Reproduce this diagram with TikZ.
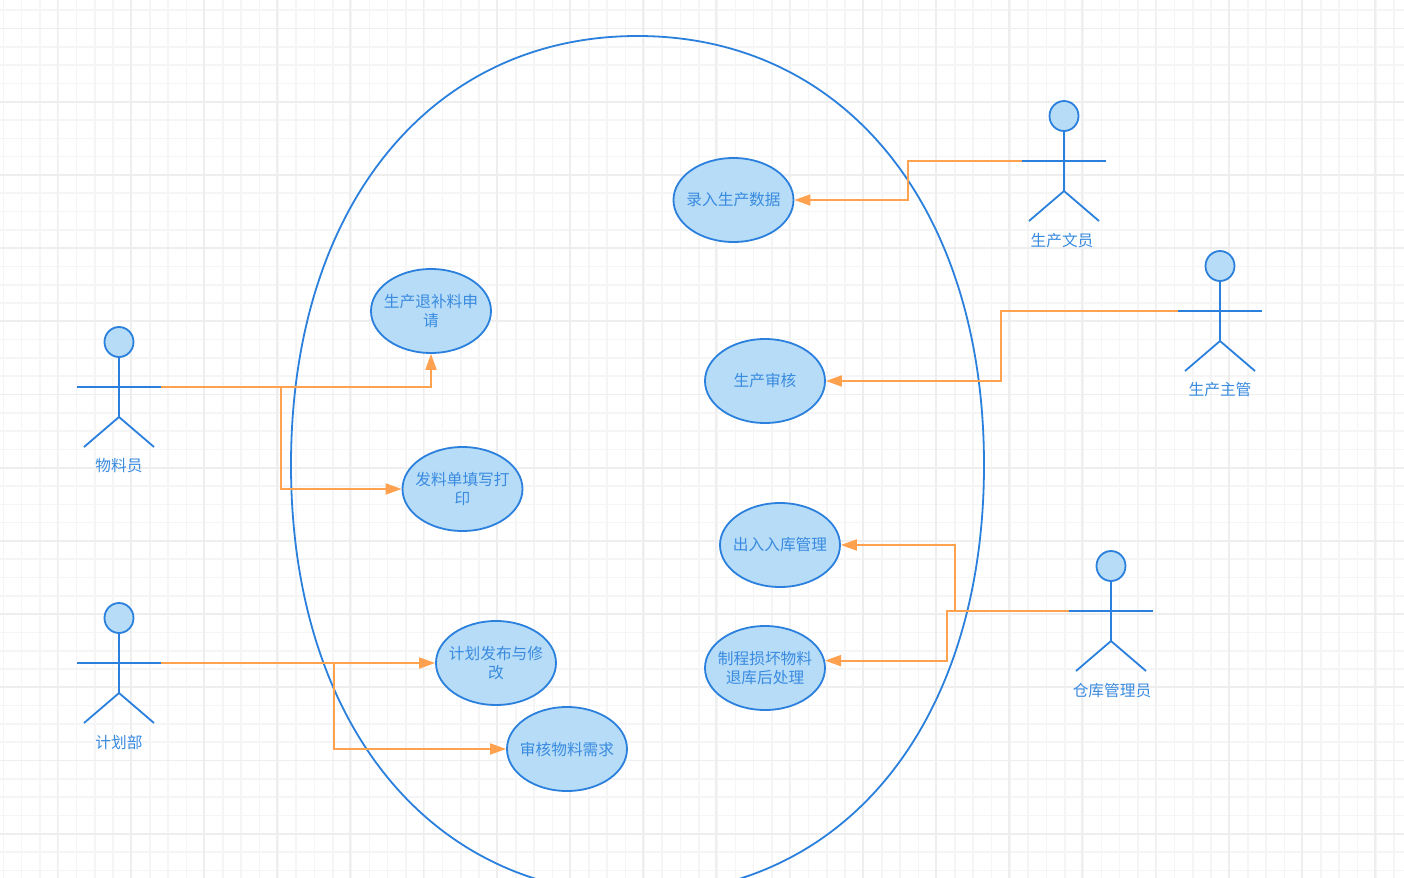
\documentclass[tikz,border=0pt]{standalone}
\usepackage{fontspec}
\setmainfont{Noto Sans CJK SC}
\usetikzlibrary{positioning,calc,shapes.geometric,arrows.meta}
\definecolor{umlblue}{HTML}{2A80DC}
\definecolor{umlfill}{HTML}{B6DCF7}
\definecolor{umltext}{HTML}{3A8BE0}
\definecolor{umlorange}{HTML}{FFA14E}
\definecolor{gridmajor}{HTML}{EEEEEE}
\definecolor{gridminor}{HTML}{F5F5F5}

\begin{document}
\begin{tikzpicture}[
    x=0.5pt, y=-0.5pt,
    usecase/.style={ellipse, draw=umlblue, line width=0.9pt, fill=umlfill, text=umltext, align=center, inner sep=-5pt, minimum width=60pt, minimum height=42pt, font=\fontsize{7.85}{9.8}\selectfont},
    actortext/.style={text=umltext, inner sep=0pt, font=\fontsize{7.85}{9.8}\selectfont},
    boundary/.style={draw=umlblue, line width=0.9pt},
    arrow/.style={-{Stealth[length=8pt,width=5.5pt,inset=0pt]}, line width=0.9pt, umlorange},
    actor/.pic={
      \node[ellipse, draw=umlblue, line width=0.9pt, fill=umlfill, inner sep=0pt, minimum width=14.5pt, minimum height=15pt] (-head) at (0,-45) {};
      \coordinate (-arm) at (42,0);
      \coordinate (-armleft) at (-42,0);
      \coordinate (-hip) at (0,30);
      \draw[umlblue, line width=0.9pt] (-head.south) -- (-hip);
      \draw[umlblue, line width=0.9pt] (-armleft) -- (-arm);
      \draw[umlblue, line width=0.9pt] (-35,60) -- (-hip) -- (35,60);
    }
  ]
    \clip (0,0) rectangle (1404,878);
    \fill[white] (0,0) rectangle (1404,878);

    % grid
    \foreach \x in {3.3,21.6,...,1404} \draw[gridminor, line width=0.8pt] (\x,0) -- (\x,878);
    \foreach \y in {10.2,28.5,...,878} \draw[gridminor, line width=0.8pt] (0,\y) -- (1404,\y);
    \foreach \x in {57.5,130.7,...,1404} \draw[gridmajor, line width=0.9pt] (\x,0) -- (\x,878);
    \foreach \y in {28.5,101.7,...,878} \draw[gridmajor, line width=0.9pt] (0,\y) -- (1404,\y);

    % system boundary
    \draw[boundary] (291,465) .. controls (291,208) and (429.5,36) .. (637.5,36) .. controls (845.5,36) and (984,208) .. (984,465) .. controls (984,722) and (845.5,894) .. (637.5,894) .. controls (429.5,894) and (291,722) .. (291,465);

    % use cases
    \node[usecase] (luru) at (733.5,200) {录入生产数据};
    \node[usecase] (tuibu) at (431,311) {生产退补料申\\请};
    \node[usecase] (shenhe) at (765,381) {生产审核};
    \node[usecase] (faliao) at (462.5,489) {发料单填写打\\印};
    \node[usecase] (churu) at (780,545) {出入入库管理};
    \node[usecase] (jihua) at (496,663) {计划发布与修\\改};
    \node[usecase] (sunhuai) at (765,668) {制程损坏物料\\退库后处理};
    \node[usecase] (xuqiu) at (567,749) {审核物料需求};

    % actors
    \pic (wuliao) at (119,387) {actor};
    \pic (jihuabu) at (119,663) {actor};
    \pic (wenyuan) at (1064,161) {actor};
    \pic (zhuguan) at (1220,311) {actor};
    \pic (cangku) at (1111,611) {actor};

    \node[actortext] (wuliaoname) at (119,466) {物料员};
    \node[actortext] (jihuabuname) at (119,742) {计划部};
    \node[actortext] (wenyuanname) at (1062,241) {生产文员};
    \node[actortext] (zhuguanname) at (1220,390) {生产主管};
    \node[actortext] (cangkuname) at (1112,691) {仓库管理员};

    % connectors
    \draw[arrow] (wuliao-arm) -| (tuibu.south);
    \draw[arrow] (wuliao-arm) -- ++(120,0) |- (faliao.west);
    \draw[arrow] (jihuabu-arm) -- (jihua.west);
    \draw[arrow] (jihuabu-arm) -- ++(173,0) |- (xuqiu.west);
    \draw[arrow] (wenyuan-armleft) -- ++(-114,0) |- (luru.east);
    \draw[arrow] (zhuguan-armleft) -- ++(-177,0) |- (shenhe.east);
    \draw[arrow] (cangku-armleft) -- ++(-114,0) |- (churu.east);
    \draw[arrow] (cangku-armleft) -- ++(-122,0) |- (sunhuai.7);
  \end{tikzpicture}
\end{document}
